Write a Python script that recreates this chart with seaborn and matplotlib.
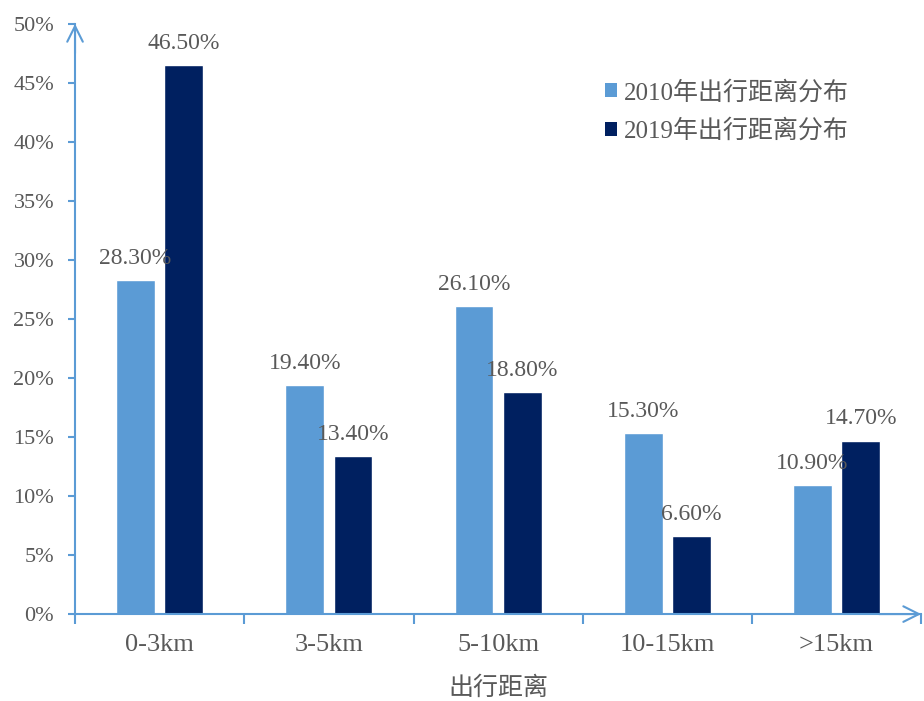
import matplotlib
matplotlib.use("Agg")
import matplotlib.pyplot as plt
from matplotlib.patches import Patch
import seaborn as sns
import pandas as pd

# Travel distance shares (%)
categories = ["0-3km", "3-5km", "5-10km", "10-15km", ">15km"]
share_2010 = [28.3, 19.4, 26.1, 15.3, 10.9]
share_2019 = [46.5, 13.4, 18.8, 6.6, 14.7]
series_names = ["2010年出行距离分布", "2019年出行距离分布"]
y_ticks = [0, 5, 10, 15, 20, 25, 30, 35, 40, 45, 50]

light_blue = "#5B9BD5"
dark_navy = "#002060"
text_gray = "#595959"

df = pd.DataFrame({
    "距离": categories * 2,
    "占比": share_2010 + share_2019,
    "系列": [series_names[0]] * len(categories) + [series_names[1]] * len(categories),
})

sns.set_theme(style="white")
plt.rcParams["font.family"] = ["Liberation Serif", "Noto Sans CJK SC"]
plt.rcParams["axes.unicode_minus"] = False

fig = plt.figure(figsize=(9.24, 7.01), dpi=100)
ax = fig.add_axes([0.0812, 0.124, 0.9158, 0.842])

sns.barplot(data=df, x="距离", y="占比", hue="系列", order=categories,
            hue_order=series_names, palette=[light_blue, dark_navy],
            width=0.57, gap=0.2, saturation=1, legend=False, ax=ax)

# value labels above each bar
for cont, vals in zip(ax.containers, [share_2010, share_2019]):
    ax.bar_label(cont, labels=[f"{v:.2f}%" for v in vals], padding=8,
                 fontsize=17, color=text_gray)

ax.set_xlim(-0.5, len(categories) - 0.5)
ax.set_ylim(0, 50)
ax.set_yticks(y_ticks)
ax.set_yticklabels([f"{t}%" for t in y_ticks])
ax.set_xticks(range(len(categories)))
ax.set_xticklabels(categories)
ax.set_xticks([i - 0.5 for i in range(len(categories) + 1)], minor=True)

ax.tick_params(axis="y", which="major", length=5, width=1.5, color=light_blue,
               pad=10, labelsize=16, labelcolor=text_gray, left=True)
ax.tick_params(axis="x", which="major", length=0, pad=14, labelsize=19,
               labelcolor=text_gray)
ax.tick_params(axis="x", which="minor", length=7, width=1.5, color=light_blue,
               bottom=True)

ax.set_xlabel("出行距离", fontsize=18, color=text_gray, labelpad=15)
ax.set_ylabel("")

for side in ["top", "right"]:
    ax.spines[side].set_visible(False)
for side in ["left", "bottom"]:
    ax.spines[side].set_color(light_blue)
    ax.spines[side].set_linewidth(1.5)

# open arrow heads on both axes
arrow_kw = dict(arrowstyle="->", color=light_blue, lw=1.5, mutation_scale=28,
                shrinkA=0, shrinkB=0)
ax.annotate("", xy=(0, 1), xytext=(0, 0.95), xycoords="axes fraction",
            arrowprops=arrow_kw, annotation_clip=False)
ax.annotate("", xy=(1, 0), xytext=(0.95, 0), xycoords="axes fraction",
            arrowprops=arrow_kw, annotation_clip=False)

handles = [Patch(facecolor=light_blue, edgecolor="none"),
           Patch(facecolor=dark_navy, edgecolor="none")]
fig.legend(handles, series_names, loc="upper left",
           bbox_to_anchor=(0.641, 0.903), frameon=False, fontsize=18,
           handlelength=0.5, handleheight=0.5, handletextpad=0.25,
           labelspacing=0.6, borderpad=0, labelcolor=text_gray)

fig.savefig("out.png", dpi=100)
